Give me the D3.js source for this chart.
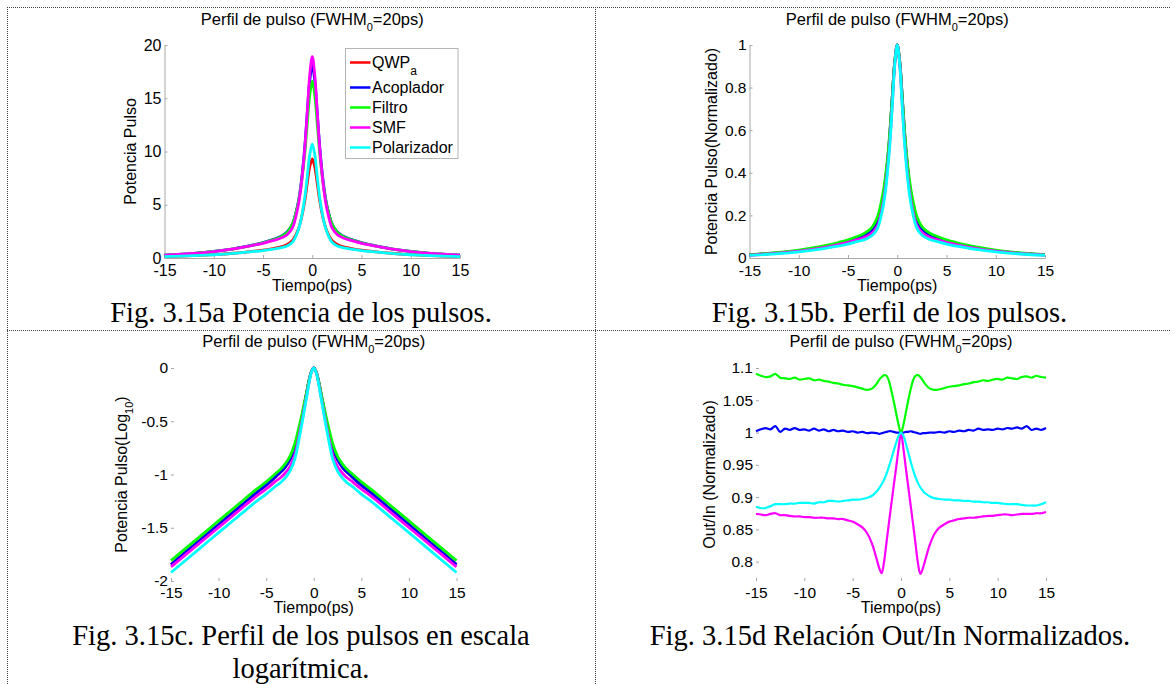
<!DOCTYPE html>
<html>
<head>
<meta charset="utf-8">
<script src="https://cdn.jsdelivr.net/npm/d3@7"></script>
<style>
  html, body { margin: 0; padding: 0; background: #fff; }
  svg { display: block; }
</style>
</head>
<body>
<svg id="chart" width="1175" height="684"></svg>
<script>
// ---------- data ----------
const tiempoTicks = [-15, -10, -5, 0, 5, 10, 15];
const potenciaTicks = [0, 5, 10, 15, 20];
const normalTicks = [0, 0.2, 0.4, 0.6, 0.8, 1];
const logTicks = [-2, -1.5, -1, -0.5, 0];
const ratioTicks = [0.8, 0.85, 0.9, 0.95, 1, 1.05, 1.1];

const seriesNames = ["QWPa", "Acoplador", "Filtro", "SMF", "Polarizador"];
const seriesColors = ["#ff0000", "#0000ff", "#00ff00", "#ff00ff", "#00ffff"];

// peak power of each pulse
const peakPower = [9.3, 18.1, 16.6, 18.9, 10.7];

// normalised pulse profiles, log10 scale
const profileTime = [-15, -12, -10, -8, -6, -5, -4, -3.5, -3, -2.5, -2, -1.5, -1.25, -1, -0.75, -0.5, -0.25,
  0, 0.25, 0.5, 0.75, 1, 1.25, 1.5, 2, 2.5, 3, 3.5, 4, 5, 6, 8, 10, 12, 15];
const logQWPa = [-1.845, -1.62, -1.47, -1.32, -1.17, -1.10, -1.02, -0.98, -0.93, -0.86, -0.75, -0.57, -0.465, -0.35, -0.235, -0.12, -0.035,
  0, -0.035, -0.12, -0.235, -0.35, -0.465, -0.57, -0.75, -0.86, -0.93, -0.98, -1.02, -1.10, -1.17, -1.32, -1.47, -1.62, -1.845];
const logAcoplador = [-1.845, -1.62, -1.47, -1.32, -1.17, -1.10, -1.02, -0.98, -0.93, -0.86, -0.75, -0.57, -0.465, -0.35, -0.235, -0.12, -0.035,
  0, -0.035, -0.12, -0.235, -0.35, -0.465, -0.57, -0.75, -0.86, -0.93, -0.98, -1.02, -1.10, -1.17, -1.32, -1.47, -1.62, -1.845];
const logFiltro = [-1.809, -1.585, -1.435, -1.286, -1.138, -1.069, -0.991, -0.952, -0.90, -0.83, -0.714, -0.536, -0.439, -0.333, -0.225, -0.116, -0.034,
  0, -0.034, -0.116, -0.225, -0.333, -0.439, -0.536, -0.714, -0.83, -0.90, -0.952, -0.991, -1.069, -1.138, -1.286, -1.435, -1.585, -1.809];
const logSMF = [-1.867, -1.645, -1.496, -1.348, -1.201, -1.136, -1.063, -1.031, -0.986, -0.927, -0.821, -0.617, -0.505, -0.383, -0.261, -0.138, -0.040,
  0, -0.040, -0.138, -0.261, -0.383, -0.505, -0.617, -0.821, -0.927, -0.986, -1.031, -1.063, -1.136, -1.201, -1.348, -1.496, -1.645, -1.867];
const logPolarizador = [-1.920, -1.696, -1.546, -1.398, -1.250, -1.184, -1.110, -1.077, -1.031, -0.968, -0.857, -0.646, -0.529, -0.401, -0.273, -0.145, -0.042,
  0, -0.042, -0.145, -0.273, -0.401, -0.529, -0.646, -0.857, -0.968, -1.031, -1.077, -1.110, -1.184, -1.250, -1.398, -1.546, -1.696, -1.920];

// Out/In ratio of the normalised profiles
const ratioTime = [
  -15, -14.5, -14, -13.5, -13, -12.5, -12, -11.5, -11, -10.5, -10, -9.5, -9, -8.5, -8, -7.5, -7, -6.5, -6, -5.5, -5, -4.5, -4,
  -3.5, -3, -2.5, -2.25, -2, -1.75, -1.5, -1.25, -1, -0.75, -0.5, -0.25, 0, 0.25, 0.5, 0.75, 1, 1.25, 1.5, 1.75, 2, 2.25, 2.5, 3, 3.5,
  4, 4.5, 5, 5.5, 6, 6.5, 7, 7.5, 8, 8.5, 9, 9.5, 10, 10.5, 11, 11.5, 12, 12.5, 13, 13.5, 14, 14.5, 15];
const ratioAcoplador = [
  1.002, 1.005, 1.007, 1.005, 1.010, 1.001, 1.006, 1.004, 1.007, 1.004, 1.005, 1.003, 1.006, 1.003, 1.005, 1.002, 1.004, 1.002, 1.003, 1.001, 1.002, 1.000, 1.001,
  0.999, 1.000, 0.999, 0.998, 0.999, 1.000, 1.001, 1.002, 1.002, 1.001, 1.000, 1.000, 1.000, 1.000, 1.001, 1.001, 1.002, 1.001, 1.000, 0.999, 0.998, 0.999, 0.999, 1.000, 1.000,
  1.001, 1.000, 1.002, 1.001, 1.003, 1.002, 1.004, 1.003, 1.006, 1.004, 1.005, 1.004, 1.006, 1.005, 1.007, 1.006, 1.008, 1.006, 1.010, 1.004, 1.006, 1.004, 1.007];
const ratioFiltro = [
  1.091, 1.088, 1.086, 1.087, 1.091, 1.085, 1.084, 1.083, 1.085, 1.082, 1.083, 1.084, 1.081, 1.082, 1.080, 1.079, 1.077, 1.076, 1.074, 1.073, 1.072, 1.070, 1.068,
  1.066, 1.068, 1.076, 1.082, 1.086, 1.089, 1.088, 1.080, 1.065, 1.048, 1.030, 1.012, 1.000, 1.012, 1.031, 1.050, 1.067, 1.081, 1.088, 1.089, 1.086, 1.081, 1.075, 1.068, 1.066,
  1.067, 1.069, 1.071, 1.072, 1.073, 1.075, 1.076, 1.078, 1.079, 1.081, 1.080, 1.082, 1.083, 1.082, 1.085, 1.084, 1.083, 1.086, 1.087, 1.085, 1.088, 1.086, 1.085];
const ratioSMF = [
  0.874, 0.873, 0.872, 0.874, 0.875, 0.872, 0.872, 0.871, 0.870, 0.870, 0.869, 0.869, 0.868, 0.868, 0.868, 0.867, 0.867, 0.866, 0.866, 0.864, 0.862, 0.858, 0.853,
  0.844, 0.828, 0.803, 0.790, 0.782, 0.800, 0.830, 0.860, 0.889, 0.918, 0.946, 0.975, 1.000, 0.975, 0.945, 0.916, 0.887, 0.858, 0.828, 0.798, 0.781, 0.789, 0.802, 0.827, 0.844,
  0.853, 0.858, 0.862, 0.864, 0.866, 0.867, 0.868, 0.868, 0.869, 0.870, 0.871, 0.871, 0.872, 0.873, 0.873, 0.872, 0.873, 0.874, 0.874, 0.874, 0.875, 0.875, 0.877];
const ratioPolarizador = [
  0.885, 0.883, 0.883, 0.886, 0.889, 0.889, 0.889, 0.890, 0.890, 0.891, 0.891, 0.891, 0.890, 0.892, 0.892, 0.894, 0.894, 0.893, 0.894, 0.895, 0.896, 0.896, 0.897,
  0.899, 0.902, 0.909, 0.914, 0.920, 0.927, 0.936, 0.947, 0.959, 0.972, 0.984, 0.995, 1.000, 0.995, 0.983, 0.969, 0.955, 0.942, 0.931, 0.922, 0.915, 0.910, 0.906, 0.901, 0.898,
  0.897, 0.896, 0.896, 0.895, 0.895, 0.894, 0.894, 0.893, 0.893, 0.892, 0.892, 0.891, 0.891, 0.890, 0.889, 0.889, 0.889, 0.888, 0.887, 0.887, 0.887, 0.889, 0.892];

// ---------- derived series ----------
const logProfiles = [logQWPa, logAcoplador, logFiltro, logSMF, logPolarizador];
const normProfiles = logProfiles.map(p => p.map(v => Math.pow(10, v)));
const powerProfiles = normProfiles.map((p, i) => p.map(v => v * peakPower[i]));
const ratioSeries = [null, ratioAcoplador, ratioFiltro, ratioSMF, ratioPolarizador];

// ---------- drawing ----------
const SANS = '"Liberation Sans", Arial, Helvetica, sans-serif';
const SERIF = '"Liberation Serif", "Times New Roman", Times, serif';
const AXIS_GRAY = "#a8a8a8";
const svg = d3.select("#chart");

// dotted table frame
const frame = svg.append("g").attr("stroke", "#444").attr("stroke-width", 1).attr("stroke-dasharray", "1 1");
[[7, 7.5, 1170, 7.5], [7, 330.5, 1170, 330.5], [7.5, 7, 7.5, 684], [595.5, 7, 595.5, 684]].forEach(l =>
  frame.append("line").attr("x1", l[0]).attr("y1", l[1]).attr("x2", l[2]).attr("y2", l[3]));

const fmt = d => String(d);

function drawPanel(cfg) {
  const x = d3.scaleLinear().domain([-15, 15]).range([cfg.left, cfg.right]);
  const y = d3.scaleLinear().domain(cfg.yDomain).range([cfg.bottom, cfg.top]);
  const g = svg.append("g");
  const cx = (cfg.left + cfg.right) / 2;

  const gx = g.append("g").attr("transform", `translate(0,${cfg.bottom})`)
    .call(d3.axisBottom(x).tickValues(tiempoTicks).tickFormat(fmt)
      .tickSizeInner(-3).tickSizeOuter(0).tickPadding(cfg.xPad));
  const gy = g.append("g").attr("transform", `translate(${cfg.left},0)`)
    .call(d3.axisLeft(y).tickValues(cfg.yTicks).tickFormat(fmt)
      .tickSizeInner(-3).tickSizeOuter(0).tickPadding(3));
  [gx, gy].forEach(ax => {
    ax.attr("font-family", SANS).attr("font-size", cfg.tickFont).attr("color", "#000");
    ax.selectAll(".tick line").attr("stroke", AXIS_GRAY);
    if (cfg.axisLines) ax.select(".domain").attr("stroke", AXIS_GRAY);
    else ax.select(".domain").remove();
  });

  const line = d3.line().x(d => x(d[0])).y(d => y(d[1])).curve(d3.curveCatmullRom.alpha(0.5));
  cfg.series.forEach((vals, i) => {
    if (!vals) return;
    g.append("path").datum(d3.zip(cfg.xs, vals))
      .attr("d", line).attr("fill", "none")
      .attr("stroke", seriesColors[i]).attr("stroke-width", cfg.lineWidth)
      .attr("stroke-linejoin", "round");
  });

  // title
  const t = g.append("text").attr("x", cx).attr("y", cfg.titleY).attr("text-anchor", "middle")
    .attr("font-family", SANS).attr("font-size", 16.5).attr("fill", "#000");
  t.append("tspan").text("Perfil de pulso (FWHM");
  t.append("tspan").attr("font-size", 11).attr("dy", 6).text("0");
  t.append("tspan").attr("dy", -6).text("=20ps)");

  // axis labels
  g.append("text").attr("x", cx).attr("y", cfg.xLabelY).attr("text-anchor", "middle")
    .attr("font-family", SANS).attr("font-size", 16).attr("fill", "#000").text("Tiempo(ps)");
  const yl = g.append("text")
    .attr("transform", `translate(${cfg.yLabelX},${(cfg.top + cfg.bottom) / 2}) rotate(-90)`)
    .attr("text-anchor", "middle").attr("font-family", SANS).attr("font-size", 16).attr("fill", "#000");
  cfg.yLabel(yl);

  return { g, x, y };
}

function caption(lines, cx, y0) {
  lines.forEach((s, i) => svg.append("text").attr("x", cx).attr("y", y0 + i * 33)
    .attr("text-anchor", "middle").attr("font-family", SERIF).attr("font-size", 28.5)
    .attr("fill", "#000").text(s));
}

// (a) pulse power
const pa = drawPanel({
  left: 164.5, right: 460, top: 45, bottom: 258, yDomain: [0, 20], yTicks: potenciaTicks,
  axisLines: true, xPad: 7, tickFont: 16, titleY: 25, xLabelY: 290.5, yLabelX: 136, lineWidth: 2.8,
  xs: profileTime, series: powerProfiles,
  yLabel: s => s.text("Potencia Pulso")
});
// legend
const leg = pa.g.append("g");
leg.append("rect").attr("x", 345.5).attr("y", 48.5).attr("width", 112.5).attr("height", 110)
  .attr("fill", "#fff").attr("stroke", "#b4b4b4").attr("stroke-width", 1);
seriesNames.forEach((name, i) => {
  const ly = 62.5 + i * 20 + (i > 0 ? 5 : 0);
  leg.append("line").attr("x1", 350).attr("x2", 370.5).attr("y1", ly).attr("y2", ly)
    .attr("stroke", seriesColors[i]).attr("stroke-width", 2.5);
  const tx = leg.append("text").attr("x", 372).attr("y", ly).attr("dy", "0.36em")
    .attr("font-family", SANS).attr("font-size", 16).attr("fill", "#000");
  if (name === "QWPa") {
    tx.append("tspan").text("QWP");
    tx.append("tspan").attr("font-size", 12).attr("dy", 7).text("a");
  } else {
    tx.text(name);
  }
});
caption(["Fig. 3.15a Potencia de los pulsos."], 301, 322);

// (b) normalised profiles
drawPanel({
  left: 749.5, right: 1045, top: 45, bottom: 258, yDomain: [0, 1], yTicks: normalTicks,
  axisLines: true, xPad: 7, tickFont: 15.5, titleY: 25, xLabelY: 290.5, yLabelX: 716.5, lineWidth: 2.8,
  xs: profileTime, series: normProfiles,
  yLabel: s => s.text("Potencia Pulso(Normalizado)")
});
caption(["Fig. 3.15b. Perfil de los pulsos."], 889.5, 322);

// (c) log profiles
drawPanel({
  left: 171, right: 456.5, top: 368, bottom: 581, yDomain: [-2, 0], yTicks: logTicks,
  axisLines: false, xPad: 5.5, tickFont: 15.5, titleY: 346.5, xLabelY: 612.5, yLabelX: 126.5, lineWidth: 2.8,
  xs: profileTime, series: logProfiles,
  yLabel: s => {
    s.append("tspan").text("Potencia Pulso(Log");
    s.append("tspan").attr("font-size", 11).attr("dy", 6).text("10");
    s.append("tspan").attr("dy", -6).text(")");
  }
});
caption(["Fig. 3.15c. Perfil de los pulsos en escala", "logarítmica."], 301, 645);

// (d) Out/In ratio
drawPanel({
  left: 756, right: 1046, top: 368, bottom: 581, yDomain: [0.77, 1.1], yTicks: ratioTicks,
  axisLines: false, xPad: 6, tickFont: 15.5, titleY: 346.5, xLabelY: 612.5, yLabelX: 715, lineWidth: 2.2,
  xs: ratioTime, series: ratioSeries,
  yLabel: s => s.text("Out/In (Normalizado)")
});
caption(["Fig. 3.15d Relación Out/In Normalizados."], 890, 645);
</script>
</body>
</html>
